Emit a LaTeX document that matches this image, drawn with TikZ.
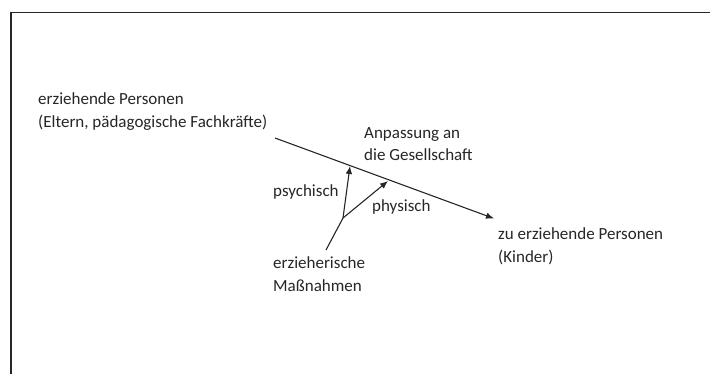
\documentclass[tikz,border=0pt]{standalone}
\usepackage{fontspec}
\setmainfont{Carlito}
\usetikzlibrary{arrows.meta}
\definecolor{ink}{HTML}{262626}
\tikzset{
  lbl/.style={anchor=west, inner sep=0pt, align=left, text=ink,
    font=\fontsize{17}{22.5}\selectfont},
  conn/.style={draw=ink, line width=1.1pt, -{Latex[length=8pt,width=6.5pt]}},
  frame/.style={draw=ink, line width=1.8pt}
}
\begin{document}
\begin{tikzpicture}[x=1pt,y=-1pt]
\useasboundingbox (0,0) rectangle (710,374);
\draw[frame] (11,374) -- (11,12.5) -- (710,12.5);
% labels
\node[lbl] (ep) at (38,111.5) {erziehende Personen\\(Eltern, pädagogische Fachkräfte)};
\node[lbl] (zep) at (498,246.5) {zu erziehende Personen\\(Kinder)};
\node[lbl] (anp) at (364,144) {Anpassung an\\die Gesellschaft};
\node[lbl] (psy) at (273,192) {psychisch};
\node[lbl] (phy) at (372,207) {physisch};
\node[lbl] (erz) at (273,274) {erzieherische\\Maßnahmen};
% connector points
\coordinate (s) at (275,138);
\coordinate (t) at (494,218.5);
\coordinate (tpsy) at (350,166);
\coordinate (tphy) at (388,181);
\coordinate (br) at (343,218);
\coordinate (bot) at (326,250);
\draw[conn] (s) -- (t);
\draw[conn] (bot) -- (br) -- (tpsy);
\draw[conn] (br) -- (tphy);
\end{tikzpicture}
\end{document}
